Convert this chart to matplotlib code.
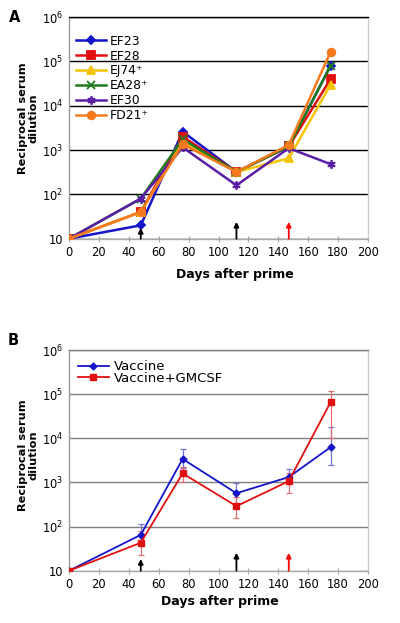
import matplotlib
matplotlib.use("Agg")
import matplotlib.pyplot as plt
import numpy as np

plt.rcParams['font.family'] = ['DejaVu Sans']

# ---------------- data ----------------
days = [0, 48, 76, 112, 147, 175]

ef23 = [10, 20, 2600, 320, 1200, 80000]
ef28 = [10, 40, 2000, 320, 1200, 40000]
ej74 = [10, 40, 1500, 320, 650, 30000]
ea28 = [10, 80, 1750, 320, 1200, 80000]
ef30 = [10, 80, 1150, 160, 1100, 480]
fd21 = [10, 40, 1350, 320, 1300, 165000]

seriesA_names = ['EF23', 'EF28', 'EJ74⁺', 'EA28⁺', 'EF30', 'FD21⁺']

vaccine = [10, 65, 3400, 570, 1320, 6300]
vaccine_hi = [10, 112, 5600, 990, 2000, 18000]
vaccine_lo = [10, 40, 2100, 330, 900, 2500]

gmcsf = [10, 43, 1600, 290, 1070, 66000]
gmcsf_hi = [10, 80, 2200, 480, 1600, 120000]
gmcsf_lo = [10, 23, 1000, 160, 590, 10000]

seriesB_names = ['Vaccine', 'Vaccine+GMCSF']

arrow_days = [48, 112, 147]
arrow_colors = ['black', 'black', 'red']
arrowA_tips = [17.5, 24, 24]
arrowB_tips = [18.5, 25.5, 25.5]

xticks = list(range(0, 201, 20))
yticks = [10, 1e2, 1e3, 1e4, 1e5, 1e6]
ytick_labels = ['10', '$10^2$', '$10^3$', '$10^4$', '$10^5$', '$10^6$']

# ---------------- figure ----------------
fig = plt.figure(figsize=(4.0, 6.23), dpi=100)
axA = fig.add_axes([0.1725, 0.6169, 0.7475, 0.3558])
axB = fig.add_axes([0.1725, 0.0839, 0.7475, 0.3543])

FS = 8.3


def style_axis(ax, gridcolor):
    ax.set_yscale('log')
    ax.set_xlim(0, 200)
    ax.set_ylim(10, 1e6)
    ax.set_xticks(xticks)
    ax.set_xticklabels([str(t) for t in xticks], fontsize=FS)
    ax.set_yticks(yticks)
    ax.set_yticklabels(ytick_labels, fontsize=FS)
    ax.yaxis.set_minor_locator(matplotlib.ticker.NullLocator())
    ax.tick_params(axis='y', length=0, pad=4)
    ax.tick_params(axis='x', length=4, direction='inout', color='#aaaaaa', pad=3)
    ax.grid(axis='y', color=gridcolor, lw=1.0)
    ax.set_axisbelow(True)
    ax.spines['left'].set_color('#999999')
    ax.spines['bottom'].set_color('#aaaaaa')
    ax.spines['right'].set_color('#cccccc')
    ax.spines['top'].set_color(gridcolor)
    for s in ax.spines.values():
        s.set_linewidth(1.0)


style_axis(axA, 'black')
style_axis(axB, '#7f7f7f')

# ---------------- panel A ----------------
colorsA = ['#1414c8', '#e01010', '#f5c400', '#1f7a1f', '#5a1ea6', '#f57a1e']
markersA = ['D', 's', '^', 'x', (6, 2, 0), 'o']
msA = [4.5, 5.5, 5.5, 5.5, 6, 5.5]
dataA = [ef23, ef28, ej74, ea28, ef30, fd21]
for i in range(len(dataA)):
    axA.plot(days, dataA[i], color=colorsA[i], marker=markersA[i], ms=msA[i],
             lw=1.8, mew=1.3, label=seriesA_names[i], zorder=3 + i * 0.1)

axA.legend(loc='upper left', bbox_to_anchor=(-0.005, 0.96), frameon=False,
           fontsize=FS + 0.6, handlelength=2.4, handletextpad=0.35,
           labelspacing=0.16, borderaxespad=0.3)

for d, c, t in zip(arrow_days, arrow_colors, arrowA_tips):
    axA.annotate('', xy=(d, t), xytext=(d, 10), xycoords='data',
                 arrowprops=dict(arrowstyle='-|>', color=c, lw=1.3,
                                 mutation_scale=7, shrinkA=0, shrinkB=0),
                 annotation_clip=False, zorder=5)

# ---------------- panel B ----------------
vac = np.array(vaccine)
gm = np.array(gmcsf)
axB.errorbar(days, vac, yerr=[vac - np.array(vaccine_lo), np.array(vaccine_hi) - vac],
             fmt='none', ecolor='#7070d8', elinewidth=0.9, capsize=2.5, capthick=0.9, zorder=2)
axB.errorbar(days, gm, yerr=[gm - np.array(gmcsf_lo), np.array(gmcsf_hi) - gm],
             fmt='none', ecolor='#e07070', elinewidth=0.9, capsize=2.5, capthick=0.9, zorder=2)
axB.plot(days, vac, color='#1414c8', marker='D', ms=3.5, lw=1.3,
         label=seriesB_names[0], zorder=3)
axB.plot(days, gm, color='#e01010', marker='s', ms=5, lw=1.3,
         label=seriesB_names[1], zorder=3)

axB.legend(loc='upper left', bbox_to_anchor=(0.0, 0.995), frameon=False,
           fontsize=FS + 1.2, handlelength=2.3, handletextpad=0.4,
           labelspacing=-0.1, borderaxespad=0.3)

for d, c, t in zip(arrow_days, arrow_colors, arrowB_tips):
    axB.annotate('', xy=(d, t), xytext=(d, 10), xycoords='data',
                 arrowprops=dict(arrowstyle='-|>', color=c, lw=1.3,
                                 mutation_scale=7, shrinkA=0, shrinkB=0),
                 annotation_clip=False, zorder=5)

# ---------------- labels ----------------
H = 623.0
W = 400.0
fig.text(15 / W, 1 - 18 / H, 'A', fontsize=10.5, fontweight='bold', ha='center', va='center')
fig.text(13 / W, 1 - 340 / H, 'B', fontsize=10.5, fontweight='bold', ha='center', va='center')

fig.text(28 / W, 1 - 118 / H, 'Reciprocal serum\ndilution', rotation=90,
         fontsize=8.2, fontweight='bold', ha='center', va='center', linespacing=1.05)
fig.text(28 / W, 1 - 455 / H, 'Reciprocal serum\ndilution', rotation=90,
         fontsize=8.2, fontweight='bold', ha='center', va='center', linespacing=1.05)

fig.text(235 / W, 1 - 275 / H, 'Days after prime', fontsize=FS + 0.7,
         fontweight='bold', ha='center', va='center')
fig.text(220 / W, 1 - 602 / H, 'Days after prime', fontsize=FS + 0.7,
         fontweight='bold', ha='center', va='center')

fig.savefig('out.png', dpi=100)
